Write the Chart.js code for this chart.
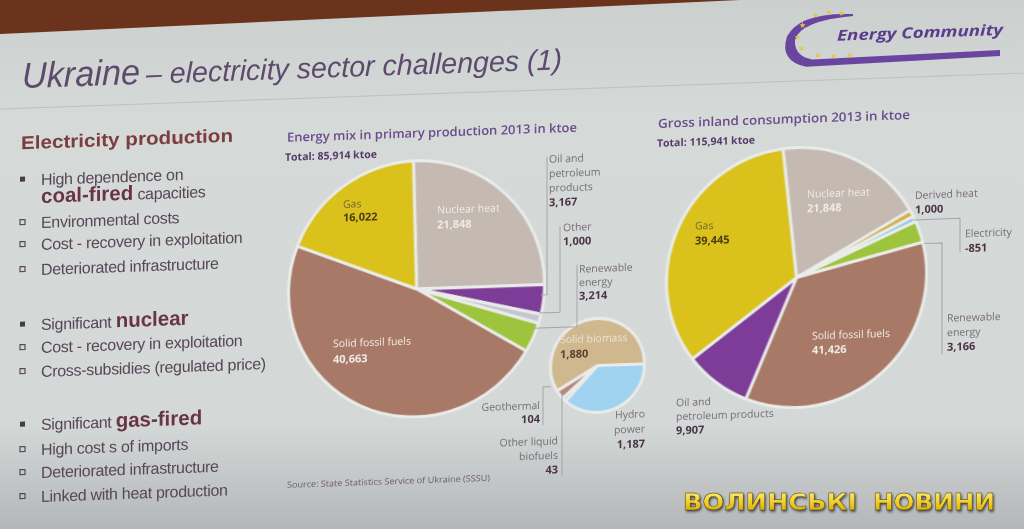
<!DOCTYPE html>
<html>
<head>
<meta charset="utf-8">
<script src="https://cdn.jsdelivr.net/npm/chart.js@4.4.1/dist/chart.umd.min.js"></script>
<style>
  html, body { margin: 0; padding: 0; }
  body {
    width: 1024px; height: 529px; overflow: hidden; position: relative;
    background: linear-gradient(180deg, #cbcfce 0%, #d5d9d8 22%, #d4d8d7 80%, #c2c6c6 91%, #b3b7b7 100%);
  }
  #wall { position: absolute; left: 0; top: 0; width: 1024px; height: 40px; background: #6b331b;
          clip-path: polygon(0 0, 740px 0, 0 34px); }
  #slide { position: absolute; left: 0; top: 0; width: 1024px; height: 529px;
           transform: skewY(-2deg); transform-origin: 512px 264px; }
  #slide canvas { position: absolute; }
  #txt, #wm { position: absolute; left: 0; top: 0; }
</style>
</head>
<body>
<div id="wall"></div>
<div id="slide">
  <canvas id="pieA"></canvas>
  <canvas id="pieB"></canvas>
  <canvas id="pieC"></canvas>
  <svg id="txt" width="1024" height="529"></svg>
</div>
<svg id="wm" width="1024" height="529">
  <defs>
    <linearGradient id="gold" x1="0" y1="0" x2="0" y2="1">
      <stop offset="0" stop-color="#fff08a"/>
      <stop offset="0.5" stop-color="#f2cf2a"/>
      <stop offset="1" stop-color="#c99a06"/>
    </linearGradient>
    <filter id="sh"><feDropShadow dx="1" dy="1.5" stdDeviation="0.8" flood-color="#2a2a2a" flood-opacity="0.8"/></filter>
  </defs>
  <g font-family="DejaVu Sans" font-weight="bold" font-size="23" fill="url(#gold)" stroke="#4a3a08" stroke-width="0.4" filter="url(#sh)">
    <text x="683" y="510" textLength="174" lengthAdjust="spacingAndGlyphs">ВОЛИНСЬКІ</text>
    <text x="873" y="510" textLength="122" lengthAdjust="spacingAndGlyphs">НОВИНИ</text>
  </g>
</svg>
<script>
// ===== DATA =====
const primaryLabels = ['Nuclear heat', 'Oil and petroleum products', 'Other', 'Renewable energy', 'Solid fossil fuels', 'Gas'];
const primaryValues = [21848, 3167, 1000, 3214, 40663, 16022];
const renewLabels = ['Hydro power', 'Other liquid biofuels', 'Geothermal', 'Solid biomass'];
const renewValues = [1187, 43, 104, 1880];
const inlandLabels = ['Nuclear heat', 'Derived heat', 'Electricity', 'Renewable energy', 'Solid fossil fuels', 'Oil and petroleum products', 'Gas'];
const inlandValues = [21848, 1000, -851, 3166, 41426, 9907, 39445];

const primaryColors = ['#c4bab1', '#7c3c97', '#c6c6d0', '#9dc43c', '#a87966', '#dac11b'];
const renewColors = ['#a0d3ef', '#b5b8c2', '#b8897c', '#cfb78e'];
const inlandColors = ['#c4bab1', '#d5ae45', '#8ecbe9', '#9dc43c', '#a87966', '#7c3c97', '#dac11b'];
const GAP = '#e9ecea';

const fmt = v => v.toLocaleString('en-US');
const total = vals => vals.reduce((a, b) => a + b, 0);

// ===== PIES =====
function pie(id, cx, cy, r, labels, values, colors, rotation) {
  const bw = 3, s = 2 * r + bw;
  const el = document.getElementById(id);
  el.width = s; el.height = s;
  el.style.left = (cx - s / 2) + 'px';
  el.style.top = (cy - s / 2) + 'px';
  new Chart(el, {
    type: 'pie',
    data: { labels, datasets: [{ data: values, backgroundColor: colors, borderColor: GAP, borderWidth: bw }] },
    options: {
      responsive: false, animation: false, rotation,
      layout: { padding: 0 },
      plugins: { legend: { display: false }, tooltip: { enabled: false } }
    }
  });
}
pie('pieA', 416, 285, 128, primaryLabels, primaryValues, primaryColors, -1.4);
pie('pieB', 597, 368, 47, renewLabels, renewValues, renewColors, 90);
pie('pieC', 796, 287, 130, inlandLabels, inlandValues, inlandColors, -6);

// ===== TEXT =====
const NS = 'http://www.w3.org/2000/svg';
const svg = document.getElementById('txt');
function txt(x, y, str, a) {
  const e = document.createElementNS(NS, 'text');
  e.setAttribute('x', x); e.setAttribute('y', y);
  for (const k in a) e.setAttribute(k, a[k]);
  e.textContent = str;
  svg.appendChild(e);
  return e;
}
function el(tag, a) {
  const e = document.createElementNS(NS, tag);
  for (const k in a) e.setAttribute(k, a[k]);
  svg.appendChild(e);
  return e;
}

// slide title
txt(22, 71, 'Ukraine', { 'font-family': 'Liberation Sans', 'font-style': 'italic', 'font-size': 36, fill: '#5d4a6c', textLength: 118, lengthAdjust: 'spacingAndGlyphs' });
txt(146, 71, '– electricity sector challenges (1)', { 'font-family': 'Liberation Sans', 'font-style': 'italic', 'font-size': 29, fill: '#5d4a6c', textLength: 416, lengthAdjust: 'spacingAndGlyphs' });
el('line', { x1: 0, y1: 91, x2: 1024, y2: 91, stroke: '#bcc1c1', 'stroke-width': 1 });

// logo
el('path', { d: 'M853,26 Q800,22 787,46 Q779,70 806,77 L1000,73 L1000,67 L812,70 Q794,66 795,50 Q800,31 853,28 Z', fill: '#6a45a0' });
[[803, 35], [798, 47], [802, 58], [818, 66], [834, 67], [850, 67], [816, 26], [829, 23], [842, 24]].forEach(p =>
  txt(p[0], p[1] + 3, '★', { 'font-size': 8, fill: '#e2c64c', 'text-anchor': 'middle' }));
txt(837, 52, 'Energy Community', { 'font-family': 'Open Sans', 'font-weight': 'bold', 'font-style': 'italic', 'font-size': 15, fill: '#5b3d8f', textLength: 166, lengthAdjust: 'spacingAndGlyphs' });

// left column
txt(21, 132, 'Electricity production', { 'font-family': 'Liberation Sans', 'font-weight': 'bold', 'font-size': 18.5, fill: '#7b3d3e', textLength: 212, lengthAdjust: 'spacingAndGlyphs' });
const bullets = [
  ['fill', 168.5, [['High dependence on', 0]]],
  [null, 186.5, [['coal-fired', 1], [' capacities', 0]]],
  ['hollow', 211.5, [['Environmental costs', 0]]],
  ['hollow', 233.5, [['Cost - recovery in exploitation', 0]]],
  ['hollow', 258.5, [['Deteriorated infrastructure', 0]]],
  ['fill', 313.5, [['Significant ', 0], ['nuclear', 1]]],
  ['hollow', 336.5, [['Cost - recovery in exploitation', 0]]],
  ['hollow', 360.5, [['Cross-subsidies (regulated price)', 0]]],
  ['fill', 413.5, [['Significant ', 0], ['gas-fired', 1]]],
  ['hollow', 438.5, [['High cost s of imports', 0]]],
  ['hollow', 461.5, [['Deteriorated infrastructure', 0]]],
  ['hollow', 485.5, [['Linked with heat production', 0]]]
];
bullets.forEach(([kind, y, parts]) => {
  if (kind === 'fill') el('rect', { x: 20, y: y - 9, width: 5, height: 5, fill: '#4a3a48' });
  if (kind === 'hollow') el('rect', { x: 20, y: y - 9, width: 5, height: 5, fill: 'none', stroke: '#5a4858', 'stroke-width': 1.2 });
  const t = txt(41, y, '', { 'font-family': 'Liberation Sans', 'font-size': 16, fill: '#574656', 'letter-spacing': -0.3 });
  parts.forEach(([s, b]) => {
    const sp = document.createElementNS(NS, 'tspan');
    sp.textContent = s;
    if (b) { sp.setAttribute('font-weight', 'bold'); sp.setAttribute('font-size', 20.5); sp.setAttribute('fill', '#6a3446'); sp.setAttribute('letter-spacing', 0); }
    t.appendChild(sp);
  });
});

// chart titles
const TITLE = { 'font-family': 'Open Sans', 'font-weight': 600, 'font-size': 12.5, fill: '#6a4b8c', lengthAdjust: 'spacingAndGlyphs' };
txt(287, 134, 'Energy mix in primary production 2013 in ktoe', Object.assign({ textLength: 290 }, TITLE));
txt(285, 153, 'Total: ' + fmt(total(primaryValues)) + ' ktoe', { 'font-family': 'Open Sans', 'font-weight': 'bold', 'font-size': 10.5, fill: '#5a3a6c' });
txt(658, 133, 'Gross inland consumption 2013 in ktoe', Object.assign({ textLength: 252 }, TITLE));
txt(657, 152, 'Total: ' + fmt(total(inlandValues)) + ' ktoe', { 'font-family': 'Open Sans', 'font-weight': 'bold', 'font-size': 10.5, fill: '#5a3a6c' });
txt(287, 480, 'Source: State Statistics Service of Ukraine (SSSU)', { 'font-family': 'Open Sans', 'font-size': 8.5, fill: '#6e5a6a', textLength: 203, lengthAdjust: 'spacingAndGlyphs' });

// leader lines
const LEAD = { fill: 'none', stroke: '#a3a6aa', 'stroke-width': 1 };
[
  '547,158 547,296 541,296',
  '560,228 560,314 539,314',
  '577,267 577,329 533,329',
  '551,388 543,388 543,426',
  '562,395 562,478',
  '914,234 960,234 960,268',
  '924,258 942,258 942,369'
].forEach(p => el('polyline', Object.assign({ points: p }, LEAD)));

// slice labels: values come from the data arrays
const NAME = '#7a6e78', VAL = '#4b3445', LIGHT = '#efebe6';
function lab(vals, i, x, y, lines, lh, o) {
  o = o || {};
  const anchor = o.anchor || 'start';
  lines.forEach((s, k) => txt(x, y + k * lh, s, { 'font-family': 'Open Sans', 'font-size': 10.5, fill: o.name || NAME, 'text-anchor': anchor }));
  txt(x, y + lines.length * lh, fmt(vals[i]), { 'font-family': 'Open Sans', 'font-weight': 'bold', 'font-size': 11, fill: o.val || VAL, 'text-anchor': anchor });
}
lab(primaryValues, 0, 437, 211, ['Nuclear heat'], 15, { name: LIGHT, val: LIGHT });
lab(primaryValues, 1, 549, 164, ['Oil and', 'petroleum', 'products'], 14.5);
lab(primaryValues, 2, 563, 233, ['Other'], 14);
lab(primaryValues, 3, 579, 275, ['Renewable', 'energy'], 13.5);
lab(primaryValues, 4, 333, 341, ['Solid fossil fuels'], 16, { name: LIGHT, val: LIGHT });
lab(primaryValues, 5, 343, 202, ['Gas'], 13.5, { name: '#77692a', val: '#4a3c12' });

lab(renewValues, 0, 645, 422, ['Hydro', 'power'], 15, { anchor: 'end' });
lab(renewValues, 1, 558, 446, ['Other liquid', 'biofuels'], 14.5, { anchor: 'end' });
lab(renewValues, 2, 540, 410, ['Geothermal'], 13.5, { anchor: 'end' });
lab(renewValues, 3, 560, 345, ['Solid biomass'], 15, { name: '#ebe3d3', val: '#5a4030' });

lab(inlandValues, 0, 807, 208, ['Nuclear heat'], 14.5, { name: LIGHT, val: LIGHT });
lab(inlandValues, 1, 915, 213, ['Derived heat'], 14.5);
lab(inlandValues, 2, 965, 253, ['Electricity'], 15);
lab(inlandValues, 3, 947, 337, ['Renewable', 'energy'], 14.5);
lab(inlandValues, 4, 812, 350, ['Solid fossil fuels'], 14.5, { name: LIGHT, val: LIGHT });
lab(inlandValues, 5, 676, 412, ['Oil and', 'petroleum products'], 14);
lab(inlandValues, 6, 695, 236, ['Gas'], 15, { name: '#77692a', val: '#4a3c12' });
</script>
</body>
</html>
